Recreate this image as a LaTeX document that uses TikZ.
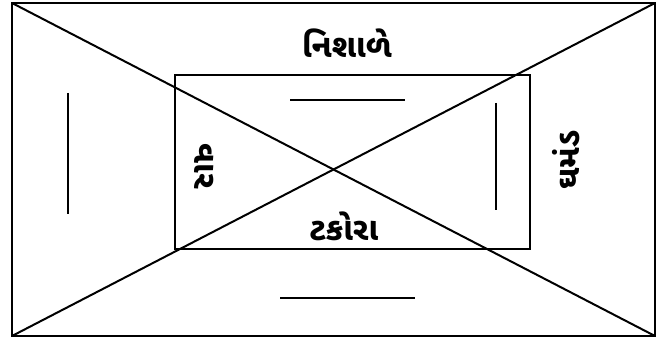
\documentclass[tikz,border=0pt]{standalone}
\usepackage{fontspec}
\newfontfamily\guj[Script=Gujarati]{Noto Sans Gujarati UI}
\definecolor{ink}{HTML}{000000}
\tikzset{
  edge/.style={draw=ink, line width=1.5pt},
  bar/.style={draw=ink, line width=1.5pt},
  word/.style={text=ink, font=\guj\bfseries\fontsize{24}{28}\selectfont, inner sep=0pt},
}
\begin{document}
\begin{tikzpicture}[x=0.75pt, y={(0pt,-0.75pt)}]
  \useasboundingbox (0,0) rectangle (664,341);
  % outer frame and its diagonals
  \coordinate (otl) at (12,3);
  \coordinate (otr) at (655,3);
  \coordinate (obl) at (12,336);
  \coordinate (obr) at (655,336);
  \draw[edge] (otl) rectangle (obr);
  \draw[edge] (otl) -- (obr);
  \draw[edge] (obl) -- (otr);
  % inner frame
  \coordinate (itl) at (175,75);
  \coordinate (ibr) at (530,249);
  \draw[edge] (itl) rectangle (ibr);
  % blanks
  \coordinate (la) at (68,93);   \coordinate (lb) at (68,214);
  \coordinate (ta) at (290,100); \coordinate (tb) at (405,100);
  \coordinate (ra) at (496,103); \coordinate (rb) at (496,210);
  \coordinate (ba) at (280,298); \coordinate (bb) at (415,298);
  \draw[bar] (la) -- (lb);
  \draw[bar] (ta) -- (tb);
  \draw[bar] (ra) -- (rb);
  \draw[bar] (ba) -- (bb);
  % words
  \node[word] (top) at (347,43) {નિશાળે};
  \node[word, rotate=-90] (lft) at (204,166) {વાર};
  \node[word, rotate=90] (rgt) at (566,160) {ઘમંડ};
  \node[word] (bot) at (344,226) {ટકોરા};
\end{tikzpicture}
\end{document}
